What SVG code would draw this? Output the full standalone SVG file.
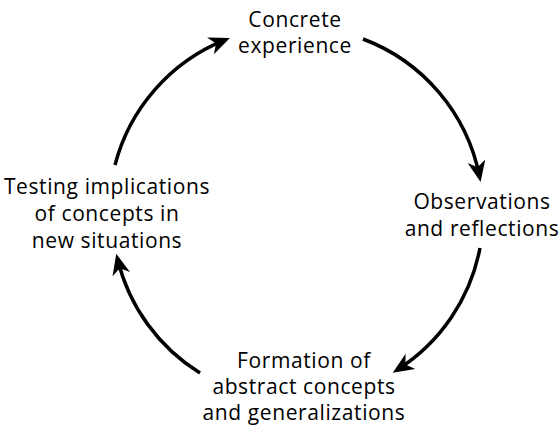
<svg xmlns="http://www.w3.org/2000/svg" width="559" height="426" viewBox="0 0 559 426">
<style>
text{font-family:"Open Sans","Noto Sans",sans-serif;font-size:21px;letter-spacing:0.6px;fill:#000;text-anchor:middle}
.arc{fill:none;stroke:#000;stroke-width:3.5}
</style>
<defs>
<marker id="ah" markerUnits="userSpaceOnUse" markerWidth="40" markerHeight="40" viewBox="-25 -15 40 30" refX="-6" refY="0" orient="auto" overflow="visible">
<path d="M0,0 L-21,-9 L-15,0 L-21,9 Z" fill="#000"/>
</marker>
</defs>
<rect width="559" height="426" fill="#fff"/>
<g id="connectors">
<path class="arc" d="M115,165 A185,185 0 0 1 224.4,40.2" marker-end="url(#ah)"/>
<path class="arc" d="M363,39 A185,185 0 0 1 479.4,176" marker-end="url(#ah)"/>
<path class="arc" d="M480,248 A185,185 0 0 1 397.8,369.4" marker-end="url(#ah)"/>
<path class="arc" d="M200,373 A185,185 0 0 1 117.7,259.6" marker-end="url(#ah)"/>
</g>
<g id="concrete"><text x="295" y="27"><tspan x="295">Concrete</tspan><tspan x="295" dy="26">experience</tspan></text></g>
<g id="observations"><text x="482" y="209"><tspan x="482">Observations</tspan><tspan x="482" dy="27">and reflections</tspan></text></g>
<g id="formation"><text x="304" y="368"><tspan x="304">Formation of</tspan><tspan x="304" dy="26">abstract concepts</tspan><tspan x="304" dy="26">and generalizations</tspan></text></g>
<g id="testing"><text x="107" y="194"><tspan x="107">Testing implications</tspan><tspan x="107" dy="27">of concepts in</tspan><tspan x="107" dy="27">new situations</tspan></text></g>
</svg>
